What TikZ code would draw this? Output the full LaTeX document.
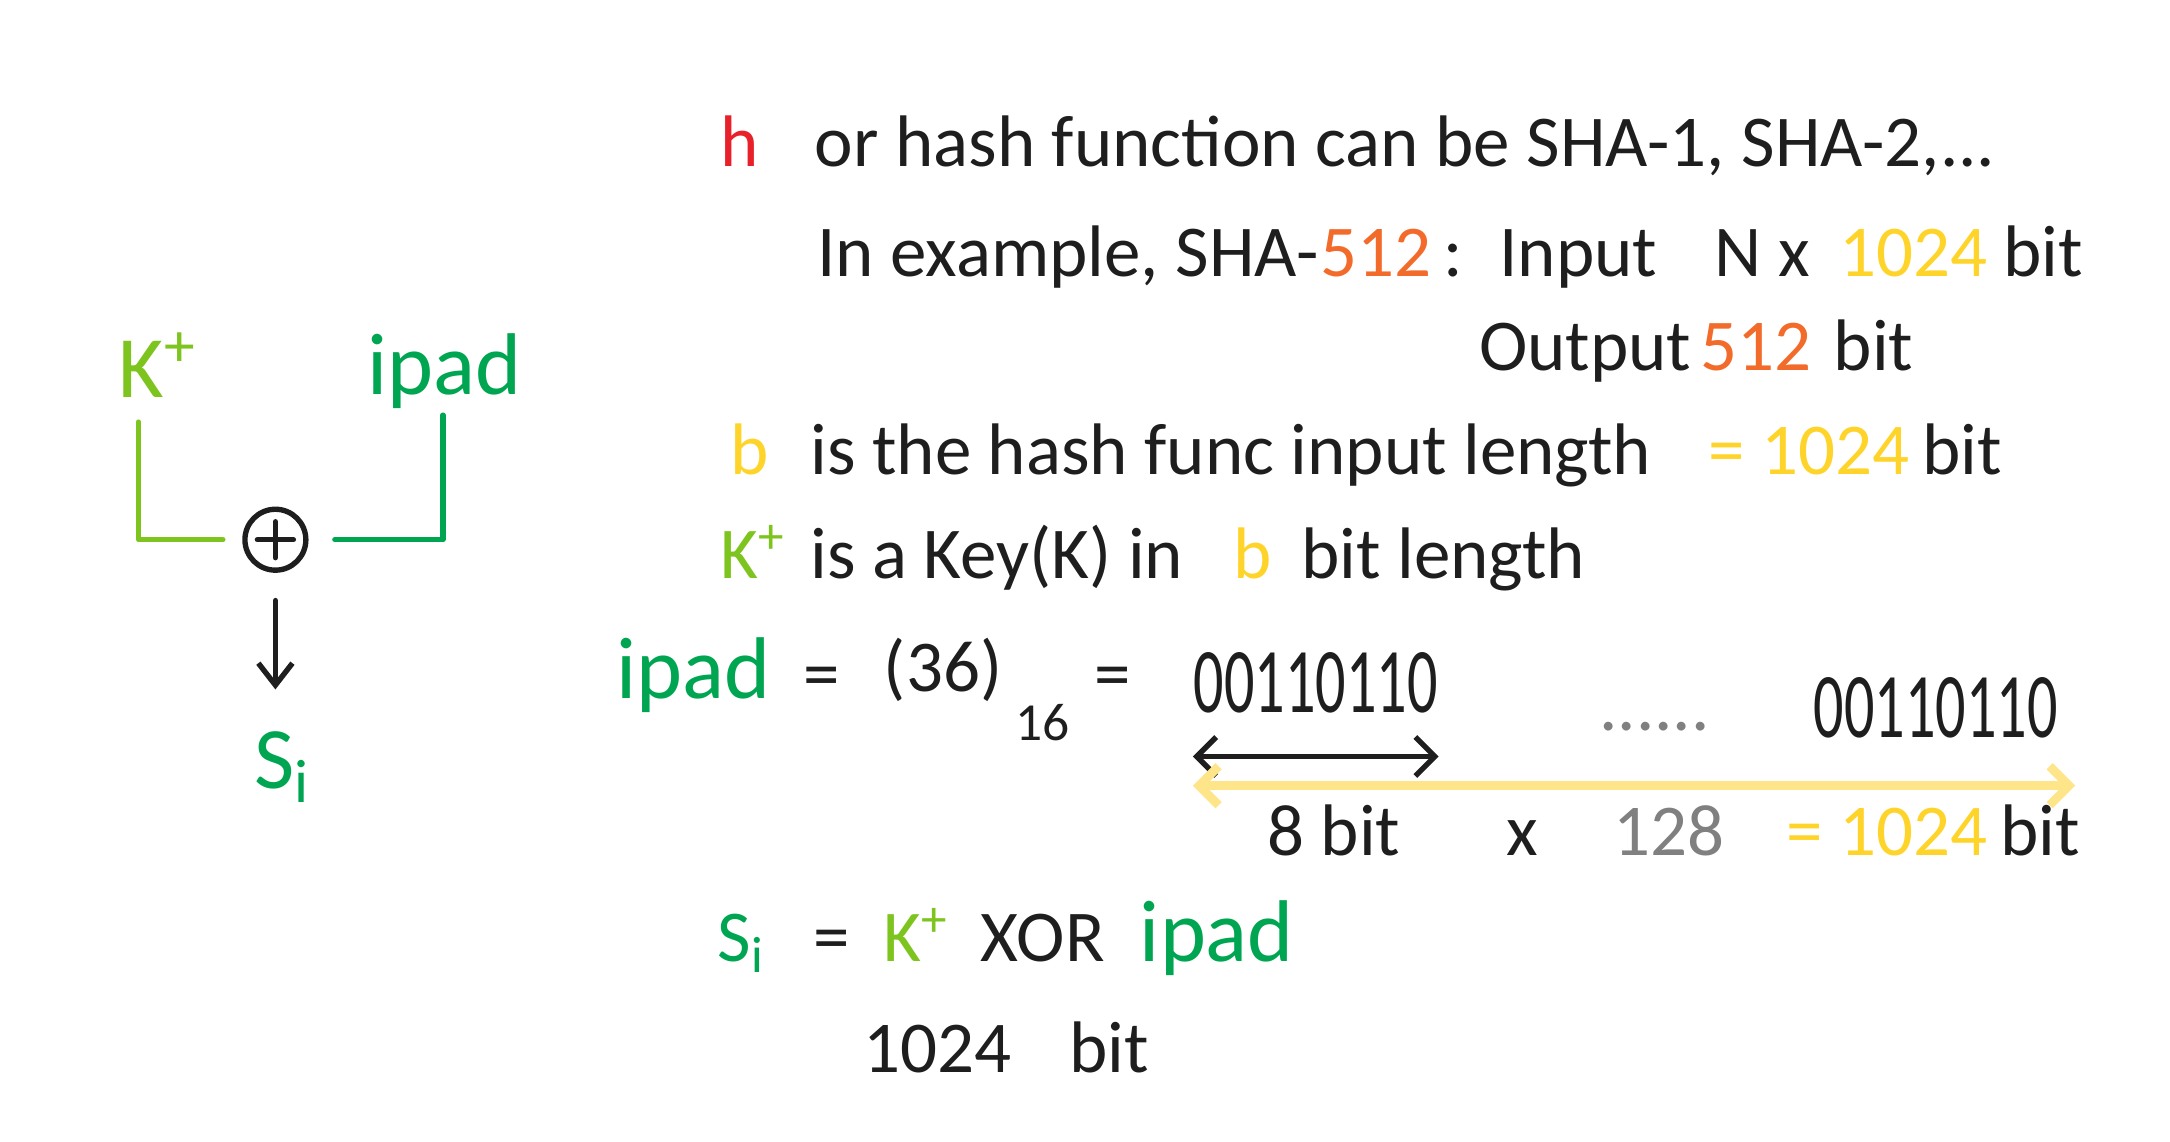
\documentclass[tikz,border=0pt]{standalone}
\usepackage{fontspec}
\setmainfont{Carlito}
\newfontfamily\narrowfont[FakeStretch=0.65]{Carlito}
\usetikzlibrary{arrows.meta}
\definecolor{inkblack}{HTML}{1E1E1E}
\definecolor{inkred}{HTML}{E8202A}
\definecolor{inklime}{HTML}{7DC41F}
\definecolor{inkgreen}{HTML}{00A551}
\definecolor{inkorange}{HTML}{F26B2A}
\definecolor{inkyellow}{HTML}{FFD42A}
\definecolor{inkpale}{HTML}{FFE58A}
\definecolor{inkgray}{HTML}{808080}
\tikzset{
  ink/.style={line width=1.1pt, line cap=round, line join=round},
  word/.style={anchor=base west, inner sep=0pt, text=inkblack, font=\fontsize{15}{18}\selectfont},
  big/.style={word, font=\fontsize{18}{21}\selectfont},
  bits/.style={word, font=\narrowfont\fontsize{19}{22}\selectfont},
  barb/.style={ink, {Straight Barb[length=4pt,width=8pt]}-{Straight Barb[length=4pt,width=8pt]}},
}
\begin{document}
\begin{tikzpicture}[x=0.01cm,y=-0.01cm]
\useasboundingbox (0,0) rectangle (1568,825);
% left: K+ xor ipad
\node[big,text=inklime] (kleft) at (85,287) {K\textsuperscript{+}};
\node[big,text=inkgreen] (ipadleft) at (265,285) {ipad};
\node[draw=inkblack,ink,circle,minimum size=0.44cm] (xor) at (199,390) {};
\draw[ink,inkblack] ([xshift=-0.13cm]xor.center) -- ([xshift=0.13cm]xor.center)
  ([yshift=-0.13cm]xor.center) -- ([yshift=0.13cm]xor.center);
\coordinate (kin) at (100,305);
\coordinate (pin) at (320,300);
\draw[ink,inklime] (kin) |- ([xshift=-0.14cm]xor.west);
\draw[ink,inkgreen] (pin) |- ([xshift=0.19cm]xor.east);
\node[big,text=inkgreen] (sleft) at (183,570) {S\textsubscript{i}};
\draw[ink,inkblack,-{Straight Barb[length=4.5pt,width=7pt]},shorten <=0.2cm,shorten >=0.3cm] (xor.south) -- (sleft.north -| xor.south);
% right: notes
\node[word,text=inkred] (h) at (520,120) {h};
\node[word] (l1) at (588,120) {or hash function can be SHA-1, SHA-2,...};
\node[word] (l2a) at (590,200) {In example, SHA-};
\node[word,text=inkorange] (l2b) at (l2a.base east) {512};
\node[word] (colon) at ([xshift=0.07cm]l2b.base east) {:};
\node[word] (input) at ([xshift=0.25cm]colon.base east) {Input};
\node[word] (nx) at ([xshift=0.4cm]input.base east) {N x};
\node[word,text=inkyellow] (nbits) at ([xshift=0.2cm]nx.base east) {1024};
\node[word] (l2bit) at ([xshift=0.1cm]nbits.base east) {bit};
\node[word] (output) at (1068,268) {Output};
\node[word,text=inkorange] (obits) at ([xshift=0.05cm]output.base east) {512};
\node[word] (l3bit) at ([xshift=0.15cm]obits.base east) {bit};
\node[word,text=inkyellow] (b) at (527,343) {b};
\node[word] (l4) at (585,343) {is the hash func input length};
\node[word,text=inkyellow] (l4eq) at ([xshift=0.4cm]l4.base east) {= 1024};
\node[word] (l4bit) at ([xshift=0.08cm]l4eq.base east) {bit};
\node[word,text=inklime] (k) at (520,418) {K\textsuperscript{+}};
\node[word] (l5) at (585,418) {is a Key(K) in};
\node[word,text=inkyellow] (l5b) at ([xshift=0.35cm]l5.base east) {b};
\node[word] (l5bit) at ([xshift=0.2cm]l5b.base east) {bit length};
% ipad = 0x36
\node[big,text=inkgreen] (ipad) at (445,505) {ipad};
\node[word] (eq1) at (580,505) {=};
\node[word] (hex) at (638,500) {(36)};
\node[word,font=\fontsize{11}{13}\selectfont] (base) at (733,535) {16};
\node[word] (eq2) at (790,505) {=};
\node[bits] (byteA) at (862,515) {00110110};
\node[word,text=inkgray] (dots) at (1155,528) {......};
\node[bits] (byteB) at (1310,533) {00110110};
\draw[barb,inkblack] ([yshift=-9pt]byteA.base west) -- ([yshift=-9pt]byteA.base east);
\draw[barb,inkpale,line width=1.8pt] ([yshift=-15pt]byteA.base west) -- ([xshift=0.12cm,yshift=-15pt]byteA.base west -| byteB.east);
\foreach \x/\t/\c [count=\i] in {915/8 bit/inkblack, 1088/x/inkblack, 1165/128/inkgray, 1290/= 1024/inkyellow}
  \node[word,text=\c] (l7\i) at (\x,618) {\t};
\node[word] (l7bit) at ([xshift=0.08cm]l74.base east) {bit};
% S_i = K+ XOR ipad
\node[word,text=inkgreen] (si) at (518,695) {S\textsubscript{i}};
\node[word] (eq) at (587,695) {=};
\node[word,text=inklime] (kp) at (638,695) {K\textsuperscript{+}};
\node[word] (xorword) at (708,695) {XOR};
\node[big,text=inkgreen] (ipadright) at (823,695) {ipad};
\node[word] (len) at (623,775) {1024\hspace{0.8em}bit};
\end{tikzpicture}
\end{document}
